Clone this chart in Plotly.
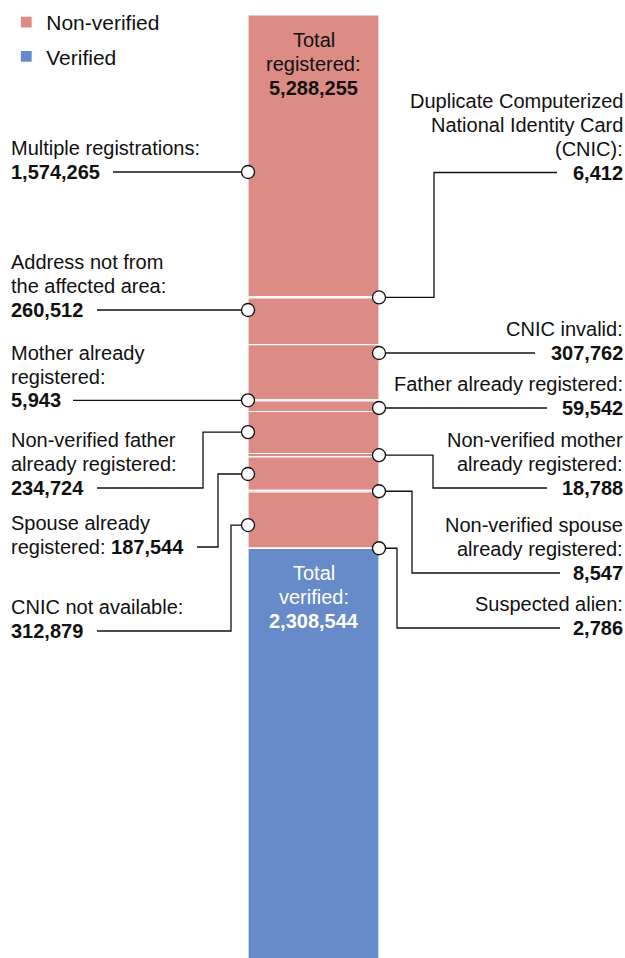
import plotly.graph_objects as go

# ---------------- data ----------------
CATEGORIES = [
    "Multiple registrations:",
    "Duplicate Computerized\nNational Identity Card\n(CNIC):",
    "Address not from\nthe affected area:",
    "CNIC invalid:",
    "Mother already\nregistered:",
    "Father already registered:",
    "Non-verified father\nalready registered:",
    "Non-verified mother\nalready registered:",
    "Spouse already\nregistered:",
    "Non-verified spouse\nalready registered:",
    "CNIC not available:",
    "Suspected alien:",
]
VALUES = [1574265, 6412, 260512, 307762, 5943, 59542, 234724, 18788, 187544, 8547, 312879, 2786]
TOTAL_REGISTERED = 5288255
TOTAL_VERIFIED = 2308544
SERIES_NAMES = ["Non-verified", "Verified"]

# ---------------- style / layout ----------------
W, H = 625, 958
TOP_PX = 15                 # pixel where the bar starts
UNITS_PER_PX = 5585         # vertical scale
BAR_X, BAR_W = 313.5, 131
RED, BLUE = "#DD8B85", "#668BC8"
FONT = "Liberation Sans, Arial, sans-serif"
FS = 20
LINE_H = 23.8
LEFT_TEXT_X, RIGHT_TEXT_X = 8.5, 625

SIDE = ["L", "R"] * 6
ANCHOR_FRAC = [0.557, 0.5, 0.257, 0.151, 0.5, 0.67, 0.49, 0.5, 0.51, 0.5, 0.59, 0.5]
LABEL_Y_PX = [None, 172.5, None, None, None, None, 488, 488, 547, 573, 631, 628]
ELBOW_X = [None, 434, None, None, None, None, 203, 433, 218, 412, 231, 397]
LEADER_X = [113, 557, 97, 535, 73, 547, 97, 547, 197, 560, 97, 560]
VALUE_INLINE = [False] * 8 + [True] + [False] * 3


def px2u(py):
    return (py - TOP_PX) * UNITS_PER_PX


def u2px(u):
    return u / UNITS_PER_PX + TOP_PX


fig = go.Figure()

# stacked segments
base = 0
starts = []
for i, (cat, v) in enumerate(zip(CATEGORIES, VALUES)):
    starts.append(base)
    fig.add_trace(go.Bar(
        x=[BAR_X], y=[v], base=[base], width=[BAR_W],
        marker=dict(color=RED, line=dict(color="white", width=1.2)),
        name=SERIES_NAMES[0], legendgroup="nv", showlegend=(i == 0),
        hoverinfo="skip",
    ))
    base += v

nv_total = TOTAL_REGISTERED - TOTAL_VERIFIED
fig.add_trace(go.Bar(
    x=[BAR_X], y=[TOTAL_VERIFIED], base=[nv_total], width=[BAR_W],
    marker=dict(color=BLUE, line=dict(color="white", width=1.2)),
    name=SERIES_NAMES[1], legendgroup="v", showlegend=True, hoverinfo="skip",
))

# leaders + labels
lx, ly = [], []
cx, cy = [], []
annotations = []
left_edge, right_edge = BAR_X - BAR_W / 2, BAR_X + BAR_W / 2
for i, (cat, v) in enumerate(zip(CATEGORIES, VALUES)):
    anchor_u = starts[i] + ANCHOR_FRAC[i] * v
    edge = left_edge if SIDE[i] == "L" else right_edge
    cx.append(edge)
    cy.append(anchor_u)
    label_y_px = LABEL_Y_PX[i] if LABEL_Y_PX[i] is not None else u2px(anchor_u)
    label_u = px2u(label_y_px)
    if ELBOW_X[i] is None:
        lx += [LEADER_X[i], edge, None]
        ly += [anchor_u, anchor_u, None]
    else:
        lx += [LEADER_X[i], ELBOW_X[i], ELBOW_X[i], edge, None]
        ly += [label_u, label_u, anchor_u, anchor_u, None]

    lines = cat.split("\n")
    val = f"<b>{v:,}</b>"
    if VALUE_INLINE[i]:
        lines[-1] = lines[-1] + " " + val
    else:
        lines.append(val)
    n = len(lines)
    for k, t in enumerate(lines):
        py = label_y_px - (n - 1 - k) * LINE_H
        annotations.append(dict(
            x=LEFT_TEXT_X if SIDE[i] == "L" else RIGHT_TEXT_X, y=px2u(py),
            xref="x", yref="y", text=t, showarrow=False,
            xanchor="left" if SIDE[i] == "L" else "right", yanchor="middle",
            font=dict(family=FONT, size=FS, color="#111111"),
        ))

fig.add_trace(go.Scatter(
    x=lx, y=ly, mode="lines", line=dict(color="#111111", width=1.3),
    showlegend=False, hoverinfo="skip", cliponaxis=False,
))
fig.add_trace(go.Scatter(
    x=cx, y=cy, mode="markers",
    marker=dict(symbol="circle", size=13, color="white", line=dict(color="#111111", width=1.3)),
    showlegend=False, hoverinfo="skip", cliponaxis=False,
))

# totals inside bar
tot_lines = [("Total", 40, "#111111"), ("registered:", 63.5, "#111111"),
             (f"<b>{TOTAL_REGISTERED:,}</b>", 87.5, "#111111"),
             ("Total", 573, "white"), ("verified:", 597, "white"),
             (f"<b>{TOTAL_VERIFIED:,}</b>", 621, "white")]
for t, py, col in tot_lines:
    annotations.append(dict(
        x=BAR_X, y=px2u(py), xref="x", yref="y", text=t, showarrow=False,
        xanchor="center", yanchor="middle",
        font=dict(family=FONT, size=FS, color=col),
    ))

fig.update_layout(
    width=W, height=H,
    margin=dict(l=0, r=0, t=0, b=0),
    paper_bgcolor="white", plot_bgcolor="white",
    barmode="overlay",
    xaxis=dict(range=[0, W], visible=False, fixedrange=True),
    yaxis=dict(range=[px2u(H), px2u(0)], visible=False, fixedrange=True),
    annotations=annotations,
    showlegend=True,
    legend=dict(x=0.01, y=0.998, xanchor="left", yanchor="top",
                font=dict(family=FONT, size=21, color="#111111"),
                traceorder="grouped", tracegroupgap=4, bgcolor="rgba(0,0,0,0)"),
    hovermode=False,
)

fig.write_html(
    "out.html",
    config={"displayModeBar": False, "staticPlot": True},
    post_script="document.body.style.margin='0';document.body.style.overflow='hidden';",
)
